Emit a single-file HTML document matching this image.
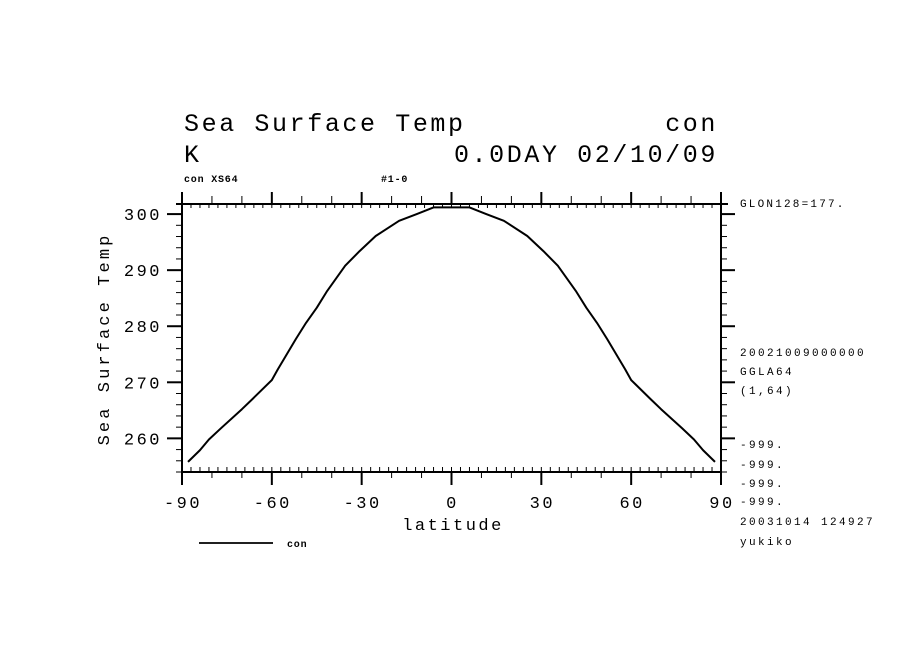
<!DOCTYPE html>
<html><head><meta charset="utf-8"><style>
html,body{margin:0;padding:0;background:#fff;}
svg{display:block;}
text{font-family:"Liberation Mono",monospace;fill:#000;}
</style></head><body>
<svg id="chart" width="904" height="654" viewBox="0 0 904 654" xmlns="http://www.w3.org/2000/svg">
<rect width="904" height="654" fill="#fff"/>
<text x="184" y="131" font-size="25" letter-spacing="2.6">Sea Surface Temp</text>
<text x="718" y="131" font-size="25" letter-spacing="2.6" text-anchor="end">con</text>
<text x="184" y="162" font-size="25" letter-spacing="2.6">K</text>
<text x="718" y="162" font-size="25" letter-spacing="2.6" text-anchor="end">0.0DAY 02/10/09</text>
<text x="184" y="182" font-size="10" font-weight="bold" letter-spacing="0.8">con XS64</text>
<text x="381" y="182" font-size="10" font-weight="bold" letter-spacing="0.8">#1-0</text>
<g id="axes"></g>
<g id="series"></g>
<text transform="translate(109,339) rotate(-90)" font-size="17" letter-spacing="3.1" text-anchor="middle">Sea Surface Temp</text>
<text x="453" y="530" font-size="17" letter-spacing="2.5" text-anchor="middle">latitude</text>
<line x1="199" y1="543" x2="273" y2="543" stroke="#000" stroke-width="1.8"/>
<text x="287" y="547" font-size="10" font-weight="bold" letter-spacing="0.8">con</text>
<g font-size="11">
<text x="740" y="207" font-size="11" letter-spacing="2.2">GLON128=177.</text>
<text x="740" y="356" font-size="11" letter-spacing="2.4">20021009000000</text>
<text x="740" y="375" font-size="11" letter-spacing="2.4">GGLA64</text>
<text x="740" y="394" font-size="11" letter-spacing="2.4">(1,64)</text>
<text x="740" y="448" font-size="11" letter-spacing="2.4">-999.</text>
<text x="740" y="468" font-size="11" letter-spacing="2.4">-999.</text>
<text x="740" y="487" font-size="11" letter-spacing="2.4">-999.</text>
<text x="740" y="505" font-size="11" letter-spacing="2.4">-999.</text>
<text x="740" y="525" font-size="11" letter-spacing="2.4">20031014 124927</text>
<text x="740" y="545" font-size="11" letter-spacing="2.4">yukiko</text>
</g>
</svg>
<script>
const lats = [-88,-84,-81,-77,-70,-66.5,-60,-58,-52,-48.6,-45,-41.5,-35.5,-30.7,-25.3,-17.5,-11.6,-6,0,6,11.6,17.5,25.3,30.7,35.5,41.5,45,48.6,52,58,60,66.5,70,77,81,84,88];
const temps = [255.8,257.9,259.8,261.8,265.2,267.0,270.4,272.3,277.7,280.6,283.3,286.3,290.8,293.4,296.1,298.8,300.0,301.2,301.2,301.2,300.0,298.8,296.1,293.4,290.8,286.3,283.3,280.6,277.7,272.3,270.4,267.0,265.2,261.8,259.8,257.9,255.8];
const xTickLabels = ["-90","-60","-30","0","30","60","90"];
const yTickLabels = ["260","270","280","290","300"];

const X0=182,X1=721,Y0=204,Y1=472,XMIN=-90,XMAX=90,YMIN=254,YMAX=301.8;
function sx(v){return X0+(v-XMIN)/(XMAX-XMIN)*(X1-X0);}
function sy(v){return Y1-(v-YMIN)/(YMAX-YMIN)*(Y1-Y0);}
const NS="http://www.w3.org/2000/svg";
const axes=document.getElementById('axes');
function ln(x1,y1,x2,y2,w,name){
  const l=document.createElementNS(NS,'line');
  l.setAttribute('x1',x1);l.setAttribute('y1',y1);l.setAttribute('x2',x2);l.setAttribute('y2',y2);
  l.setAttribute('stroke','#000');l.setAttribute('stroke-width',w);
  
  
  axes.appendChild(l);
}
function tx(x,y,s,anchor,name){
  const t=document.createElementNS(NS,'text');
  t.setAttribute('x',x);t.setAttribute('y',y);t.setAttribute('font-size','17');
  t.setAttribute('letter-spacing','2.5');t.setAttribute('text-anchor',anchor);
  t.textContent=s;
  
  
  axes.appendChild(t);
}
ln(X0-6,Y0,X1+7,Y0,2,'plot-top-border');
ln(X0,Y1,X1,Y1,2,'plot-bottom-border');
ln(X0,Y0-12,X0,Y1+13,2,'y-axis-left');
ln(X1,Y0-12,X1,Y1+13,2,'y-axis-right');
for(let d=-90;d<=90;d+=3){const x=sx(d);ln(x,Y0,x,Y0+4,1,'x-minor-tick-top');ln(x,Y1,x,Y1-5,1,'x-minor-tick-bottom');}
for(let d=-90;d<=90;d+=10){const x=sx(d);const maj=(d%30===0);
  ln(x,Y0,x,Y0-(maj?12:8),maj?2:1,'x-tick-top');ln(x,Y1,x,Y1+(maj?13:6),maj?2:1,'x-tick-bottom');}
xTickLabels.forEach(s=>{tx(sx(parseFloat(s))+1,508,s,'middle','x-tick-label');});
for(let v=254;v<=302;v+=2){const y=sy(v);if(y<Y0-1)continue;const maj=(v%10===0);
  ln(X0,y,X0-(maj?15:6),y,maj?2:1,'y-tick-left');ln(X1,y,X1+(maj?14:6),y,maj?2:1,'y-tick-right');}
yTickLabels.forEach(s=>{tx(162,sy(parseFloat(s))+6,s,'end','y-tick-label');});
const series=document.getElementById('series');
const p=document.createElementNS(NS,'polyline');
p.setAttribute('points',lats.map((la,i)=>sx(la).toFixed(1)+','+sy(temps[i]).toFixed(1)).join(' '));
p.setAttribute('fill','none');p.setAttribute('stroke','#000');p.setAttribute('stroke-width','2');
p.setAttribute('stroke-linejoin','round');


series.appendChild(p);
</script>
</body></html>
